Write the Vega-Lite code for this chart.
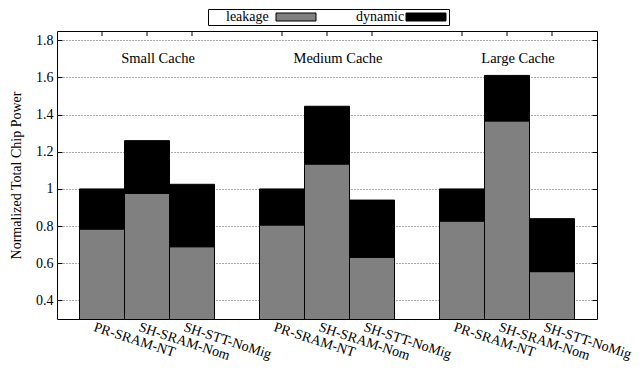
{
  "$schema": "https://vega.github.io/schema/vega-lite/v6.json",
  "width": 540,
  "height": 288,
  "autosize": {"type": "none"},
  "padding": {"left": 57, "top": 31, "right": 47, "bottom": 50},
  "config": {
    "font": "Liberation Serif",
    "view": {"stroke": "black", "strokeWidth": 1},
    "axis": {"labelFont": "Liberation Serif", "titleFont": "Liberation Serif", "labelFontSize": 14, "titleFontSize": 14, "titleFontWeight": "normal", "labelColor": "black", "titleColor": "black"},
    "legend": {"labelFont": "Liberation Serif", "labelFontSize": 14, "labelColor": "black"},
    "text": {"font": "Liberation Serif"}
  },
  "data": {"values": [
    {"group": "Small Cache", "config": "PR-SRAM-NT", "component": "leakage", "value": 0.784},
    {"group": "Small Cache", "config": "PR-SRAM-NT", "component": "dynamic", "value": 0.216},
    {"group": "Small Cache", "config": "SH-SRAM-Nom", "component": "leakage", "value": 0.976},
    {"group": "Small Cache", "config": "SH-SRAM-Nom", "component": "dynamic", "value": 0.284},
    {"group": "Small Cache", "config": "SH-STT-NoMig", "component": "leakage", "value": 0.689},
    {"group": "Small Cache", "config": "SH-STT-NoMig", "component": "dynamic", "value": 0.336},
    {"group": "Medium Cache", "config": "PR-SRAM-NT", "component": "leakage", "value": 0.806},
    {"group": "Medium Cache", "config": "PR-SRAM-NT", "component": "dynamic", "value": 0.194},
    {"group": "Medium Cache", "config": "SH-SRAM-Nom", "component": "leakage", "value": 1.134},
    {"group": "Medium Cache", "config": "SH-SRAM-Nom", "component": "dynamic", "value": 0.311},
    {"group": "Medium Cache", "config": "SH-STT-NoMig", "component": "leakage", "value": 0.632},
    {"group": "Medium Cache", "config": "SH-STT-NoMig", "component": "dynamic", "value": 0.308},
    {"group": "Large Cache", "config": "PR-SRAM-NT", "component": "leakage", "value": 0.827},
    {"group": "Large Cache", "config": "PR-SRAM-NT", "component": "dynamic", "value": 0.173},
    {"group": "Large Cache", "config": "SH-SRAM-Nom", "component": "leakage", "value": 1.366},
    {"group": "Large Cache", "config": "SH-SRAM-Nom", "component": "dynamic", "value": 0.245},
    {"group": "Large Cache", "config": "SH-STT-NoMig", "component": "leakage", "value": 0.555},
    {"group": "Large Cache", "config": "SH-STT-NoMig", "component": "dynamic", "value": 0.285}
  ]},
  "layer": [
    {
      "mark": {"type": "bar", "clip": true, "stroke": "black", "strokeWidth": 1},
      "encoding": {
        "x": {"field": "group", "type": "nominal", "sort": ["Small Cache", "Medium Cache", "Large Cache"], "scale": {"paddingInner": 0.25, "paddingOuter": 0.125}, "axis": null},
        "xOffset": {"field": "config", "type": "nominal", "sort": ["PR-SRAM-NT", "SH-SRAM-Nom", "SH-STT-NoMig"], "scale": {"paddingInner": 0, "paddingOuter": 0}},
        "y": {"field": "value", "type": "quantitative", "stack": "zero",
          "scale": {"domain": [0.3, 1.85], "nice": false, "zero": false},
          "axis": {"title": "Normalized Total Chip Power", "values": [0.4, 0.6, 0.8, 1, 1.2, 1.4, 1.6, 1.8], "format": "~g", "grid": true, "gridDash": [1, 2], "gridColor": "#555", "gridWidth": 1, "tickSize": -5, "tickColor": "black", "domain": false, "labelPadding": 9, "titlePadding": 12}},
        "color": {"field": "component", "type": "nominal",
          "scale": {"domain": ["leakage", "dynamic"], "range": ["#808080", "#000000"]},
          "legend": {"orient": "none", "legendX": 151, "legendY": -22, "direction": "horizontal", "title": null,
            "symbolType": "M15,-1H25V1H15Z", "symbolSize": 64, "symbolStrokeColor": "black", "symbolStrokeWidth": 1,
            "labelFontSize": 14, "labelBaseline": "middle", "labelFont": "Liberation Serif",
            "labelAlign": "left", "labelOffset": 3, "columnPadding": 21, "strokeColor": "black", "padding": 1}},
        "order": {"field": "component", "sort": "descending"}
      }
    },
    {
      "transform": [{"filter": "datum.component == 'leakage'"}],
      "mark": {"type": "text", "angle": 18, "align": "left", "baseline": "top", "dx": -5, "dy": 3, "fontSize": 14, "color": "black", "font": "Liberation Serif"},
      "encoding": {
        "x": {"field": "group", "type": "nominal", "sort": ["Small Cache", "Medium Cache", "Large Cache"]},
        "xOffset": {"field": "config", "type": "nominal", "sort": ["PR-SRAM-NT", "SH-SRAM-Nom", "SH-STT-NoMig"]},
        "y": {"datum": 0.3, "scale": {"domain": [0.3, 1.85], "nice": false, "zero": false}, "axis": null},
        "text": {"field": "config"}
      }
    },
    {
      "transform": [{"filter": "datum.component == 'leakage' && datum.config == 'SH-SRAM-Nom'"}],
      "mark": {"type": "text", "baseline": "middle", "fontSize": 14.5, "dx": 11, "color": "black", "font": "Liberation Serif"},
      "encoding": {
        "x": {"field": "group", "type": "nominal", "sort": ["Small Cache", "Medium Cache", "Large Cache"]},
        "y": {"datum": 1.7, "scale": {"domain": [0.3, 1.85], "nice": false, "zero": false}, "axis": null},
        "text": {"field": "group"}
      }
    },
    {
      "transform": [{"filter": "datum.component == 'leakage'"}],
      "mark": {"type": "rule", "color": "black", "strokeWidth": 1},
      "encoding": {
        "x": {"field": "group", "type": "nominal", "sort": ["Small Cache", "Medium Cache", "Large Cache"]},
        "xOffset": {"field": "config", "type": "nominal", "sort": ["PR-SRAM-NT", "SH-SRAM-Nom", "SH-STT-NoMig"]},
        "y": {"datum": 1.85, "scale": {"domain": [0.3, 1.85], "nice": false, "zero": false},
          "axis": {"orient": "right", "title": null, "labels": false, "values": [0.4, 0.6, 0.8, 1, 1.2, 1.4, 1.6, 1.8], "grid": false, "domain": false, "tickSize": -5, "tickColor": "black"}},
        "y2": {"datum": 1.823}
      }
    }
  ],
  "resolve": {"scale": {"y": "independent"}, "axis": {"y": "independent"}}
}
